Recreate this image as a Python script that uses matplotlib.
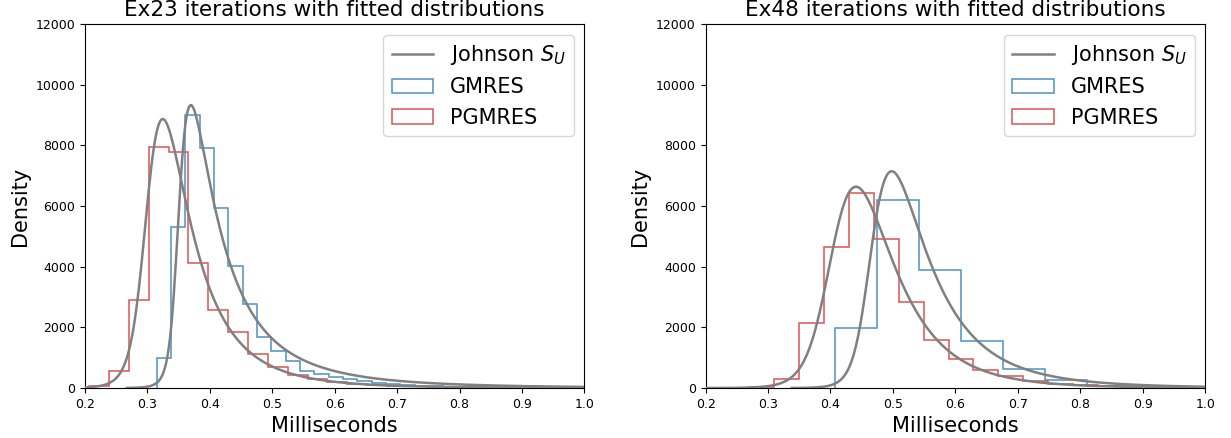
import numpy as np
import matplotlib
matplotlib.use("Agg")
import matplotlib.pyplot as plt

# --- histogram data (density, 1/s) ---
ex23_gmres_range = (0.315, 0.889)
ex23_gmres = [983, 5325, 9008, 7929, 5951, 4039, 2763, 1698, 1236, 907,
              577, 460, 370, 300, 230, 170, 130, 100, 75, 55, 40, 30, 20, 15, 10]
ex23_pgmres_range = (0.2067, 1.002)
ex23_pgmres = [60, 554, 2908, 7939, 7797, 4115, 2588, 1840, 1127, 709,
               447, 290, 200, 150, 110, 80, 60, 45, 35, 25, 20, 15, 10, 8, 5]

ex48_gmres_range = (0.4065, 2.0915)
ex48_gmres = [1967, 6190, 3890, 1545, 617, 252, 60, 40, 30, 20,
              15, 10, 8, 6, 5, 4, 3, 3, 2, 2, 2, 1, 1, 1, 1]
ex48_pgmres_range = (0.2699, 1.0679)
ex48_pgmres = [30, 285, 2132, 4654, 6422, 4919, 2839, 1579, 972, 607,
               385, 229, 143, 100, 70, 50, 35, 25, 18, 12]

# --- fitted Johnson S_U parameters (a, b, loc, scale) and curve start ---
ex23_gmres_fit = (-1.6933, 0.9748, 0.34645, 0.02089)
ex23_pgmres_fit = (-1.3097, 1.2068, 0.29614, 0.03882)
ex48_gmres_fit = (-1.6341, 1.2901, 0.45480, 0.04504)
ex48_pgmres_fit = (-1.2917, 1.4760, 0.39513, 0.06895)
curve_start = {"ex23_gmres": 0.267, "ex23_pgmres": 0.2,
               "ex48_gmres": 0.338, "ex48_pgmres": 0.2}

titles = ["Ex23 iterations with fitted distributions",
          "Ex48 iterations with fitted distributions"]
xticks = [0.2, 0.3, 0.4, 0.5, 0.6, 0.7, 0.8, 0.9, 1.0]
yticks = [0, 2000, 4000, 6000, 8000, 10000, 12000]

BLUE = "#4c92c3"
RED = "#de5253"


def johnson_su(x, a, b, loc, scale):
    # pdf with x in ms, density in 1/s
    u = (x - loc) / scale
    z = a + b * np.arcsinh(u)
    return 1000 * b / (scale * np.sqrt(1 + u * u)) * np.exp(-0.5 * z * z) / np.sqrt(2 * np.pi)


def panel(ax, title, gm, gm_rng, pg, pg_rng, gm_fit, pg_fit, gm_x0, pg_x0):
    xg = np.linspace(gm_x0, 1.0, 400)
    xp = np.linspace(pg_x0, 1.0, 400)
    ax.plot(xg, johnson_su(xg, *gm_fit), color="gray", lw=1.8, zorder=3,
            label="Johnson $S_U$")
    ax.plot(xp, johnson_su(xp, *pg_fit), color="gray", lw=1.8, zorder=3)
    ax.hist(np.linspace(*gm_rng, len(gm) + 1)[:-1] + 1e-6, bins=len(gm), range=gm_rng,
            weights=gm, histtype="step", color=BLUE, lw=1.1, label="GMRES")
    ax.hist(np.linspace(*pg_rng, len(pg) + 1)[:-1] + 1e-6, bins=len(pg), range=pg_rng,
            weights=pg, histtype="step", color=RED, lw=1.1, label="PGMRES")
    ax.set_xlim(0.2, 1.0)
    ax.set_ylim(0, 12000)
    ax.set_xticks(xticks)
    ax.set_yticks(yticks)
    ax.tick_params(labelsize=9)
    ax.set_xlabel("Milliseconds", fontsize=15)
    ax.set_ylabel("Density", fontsize=15)
    ax.set_title(title, fontsize=15.5)
    ax.legend(loc="upper right", fontsize=15)


fig, (ax1, ax2) = plt.subplots(1, 2, figsize=(12.31, 4.38), dpi=100)
fig.subplots_adjust(left=0.069, right=0.979, bottom=0.114, top=0.945, wspace=0.2425)

panel(ax1, titles[0], ex23_gmres, ex23_gmres_range, ex23_pgmres, ex23_pgmres_range,
      ex23_gmres_fit, ex23_pgmres_fit, curve_start["ex23_gmres"], curve_start["ex23_pgmres"])
panel(ax2, titles[1], ex48_gmres, ex48_gmres_range, ex48_pgmres, ex48_pgmres_range,
      ex48_gmres_fit, ex48_pgmres_fit, curve_start["ex48_gmres"], curve_start["ex48_pgmres"])

fig.savefig("out.png", dpi=100)
